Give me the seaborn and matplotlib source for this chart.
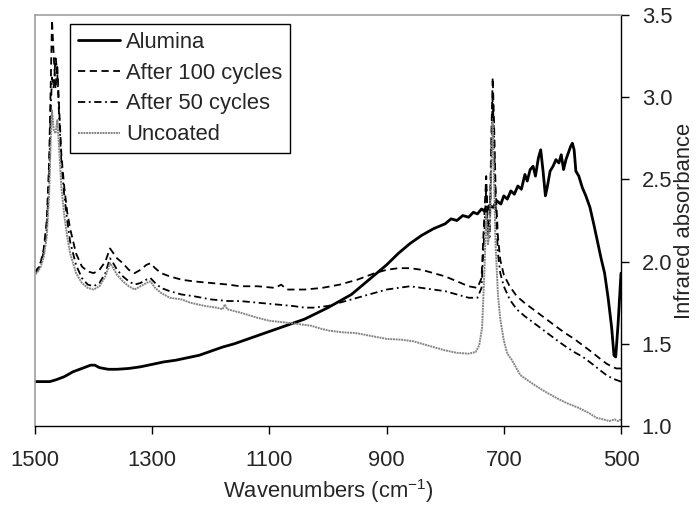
import matplotlib
matplotlib.use("Agg")
import matplotlib.pyplot as plt
import seaborn as sns
import pandas as pd

# ---------------- data ----------------
alumina_x = [1500, 1490, 1475, 1465, 1450, 1435, 1420, 1405, 1398, 1390, 1375, 1360, 1340, 1320,
             1300, 1280, 1260, 1240, 1220, 1200, 1180, 1160, 1140, 1120, 1100, 1080, 1060, 1040,
             1020, 1000, 980, 960, 940, 920, 900, 880, 860, 840, 820, 800, 790, 780, 770, 760,
             752, 745, 738, 730, 725, 718, 712, 705, 700, 694, 688, 682, 676, 670, 664, 660, 655,
             650, 646, 641, 637, 633, 629, 626, 621, 616, 611, 606, 602, 598, 594, 590, 586, 583,
             580, 577, 572, 566, 560, 553, 546, 540, 534, 528, 522, 516, 512, 509, 505, 500]
alumina_y = [1.27, 1.27, 1.27, 1.28, 1.30, 1.33, 1.35, 1.37, 1.37, 1.355, 1.345, 1.345, 1.35, 1.36,
             1.375, 1.39, 1.40, 1.415, 1.43, 1.455, 1.48, 1.50, 1.525, 1.55, 1.575, 1.60, 1.625, 1.65,
             1.685, 1.72, 1.76, 1.80, 1.86, 1.92, 1.98, 2.05, 2.11, 2.16, 2.20, 2.23, 2.26, 2.25, 2.28,
             2.27, 2.30, 2.29, 2.32, 2.30, 2.34, 2.33, 2.37, 2.35, 2.40, 2.38, 2.43, 2.41, 2.46, 2.44,
             2.53, 2.49, 2.56, 2.58, 2.52, 2.63, 2.68, 2.55, 2.40, 2.45, 2.55, 2.58, 2.62, 2.60, 2.65,
             2.56, 2.62, 2.66, 2.70, 2.72, 2.68, 2.55, 2.52, 2.45, 2.40, 2.33, 2.22, 2.12, 2.02, 1.93,
             1.78, 1.60, 1.43, 1.42, 1.62, 1.93]

c100_x = [1500, 1495, 1490, 1485, 1480, 1476, 1473, 1471, 1468, 1465, 1462, 1459, 1455, 1450, 1445,
          1440, 1430, 1420, 1410, 1400, 1390, 1380, 1372, 1368, 1360, 1350, 1340, 1330, 1320, 1310,
          1303, 1295, 1285, 1270, 1250, 1230, 1200, 1170, 1150, 1120, 1090, 1080, 1070, 1040, 1010,
          980, 950, 920, 900, 880, 860, 840, 820, 800, 780, 760, 745, 738, 733, 730, 727, 724, 721,
          719, 717, 714, 710, 706, 700, 690, 678, 665, 650, 635, 620, 605, 593, 580, 565, 550, 536,
          525, 515, 508, 500]
c100_y = [1.94, 1.96, 2.00, 2.08, 2.25, 2.60, 3.10, 3.47, 3.25, 3.05, 3.20, 2.95, 2.65, 2.45, 2.30,
          2.20, 2.05, 1.97, 1.94, 1.93, 1.95, 2.00, 2.08, 2.06, 2.02, 1.99, 1.95, 1.93, 1.95, 1.98,
          1.99, 1.96, 1.93, 1.91, 1.89, 1.88, 1.87, 1.86, 1.85, 1.85, 1.84, 1.86, 1.83, 1.83, 1.84,
          1.86, 1.89, 1.93, 1.95, 1.96, 1.96, 1.95, 1.93, 1.91, 1.88, 1.85, 1.84, 1.90, 2.30, 2.52,
          2.20, 2.25, 2.80, 3.12, 2.90, 2.45, 2.15, 2.01, 1.92, 1.85, 1.79, 1.75, 1.71, 1.67, 1.63,
          1.59, 1.56, 1.53, 1.49, 1.45, 1.41, 1.38, 1.36, 1.35, 1.35]

c50_x = [1500, 1495, 1490, 1485, 1480, 1476, 1473, 1471, 1468, 1465, 1462, 1459, 1455, 1450, 1445,
         1440, 1430, 1420, 1410, 1400, 1390, 1380, 1372, 1368, 1360, 1350, 1340, 1330, 1320, 1310,
         1303, 1295, 1285, 1270, 1250, 1230, 1200, 1170, 1150, 1120, 1090, 1060, 1040, 1025, 1000,
         980, 950, 920, 900, 880, 860, 840, 820, 800, 780, 760, 745, 738, 733, 730, 727, 724, 721,
         719, 717, 714, 710, 706, 700, 690, 678, 665, 650, 635, 620, 605, 593, 580, 565, 550, 536,
         525, 515, 508, 500]
c50_y = [1.93, 1.95, 1.99, 2.06, 2.20, 2.50, 2.95, 3.12, 3.05, 3.25, 3.15, 2.90, 2.60, 2.40, 2.25,
         2.12, 1.98, 1.90, 1.86, 1.85, 1.87, 1.93, 2.02, 2.00, 1.95, 1.91, 1.88, 1.86, 1.87, 1.89,
         1.90, 1.87, 1.84, 1.82, 1.80, 1.79, 1.77, 1.76, 1.76, 1.75, 1.74, 1.73, 1.72, 1.72, 1.73,
         1.75, 1.78, 1.81, 1.83, 1.84, 1.85, 1.84, 1.83, 1.82, 1.80, 1.78, 1.78, 1.84, 2.20, 2.45,
         2.15, 2.15, 2.70, 3.00, 2.80, 2.35, 2.05, 1.93, 1.85, 1.77, 1.71, 1.67, 1.63, 1.59, 1.55,
         1.51, 1.48, 1.45, 1.42, 1.38, 1.34, 1.31, 1.29, 1.28, 1.27]

unc_x = [1500, 1495, 1490, 1485, 1480, 1476, 1473, 1471, 1468, 1465, 1462, 1459, 1455, 1450, 1445,
         1440, 1430, 1420, 1410, 1400, 1390, 1380, 1372, 1368, 1360, 1350, 1340, 1330, 1320, 1310,
         1303, 1295, 1285, 1270, 1250, 1235, 1210, 1190, 1180, 1176, 1172, 1150, 1122, 1100, 1074,
         1050, 1029, 1010, 998, 975, 952, 930, 900, 875, 854, 830, 800, 780, 760, 748, 742, 737,
         733, 730, 727, 724, 721, 719, 717, 714, 710, 706, 700, 694, 686, 672, 660, 648, 630, 610,
         593, 572, 555, 542, 530, 520, 511, 505, 500]
unc_y = [1.92, 1.94, 1.97, 2.03, 2.15, 2.40, 2.75, 2.92, 2.80, 2.78, 2.86, 2.70, 2.45, 2.28, 2.15,
         2.05, 1.93, 1.87, 1.84, 1.83, 1.85, 1.91, 1.99, 1.97, 1.92, 1.88, 1.85, 1.83, 1.85, 1.87,
         1.88, 1.84, 1.81, 1.78, 1.77, 1.75, 1.73, 1.72, 1.71, 1.74, 1.71, 1.69, 1.66, 1.64, 1.63,
         1.62, 1.61, 1.59, 1.58, 1.57, 1.565, 1.55, 1.53, 1.525, 1.515, 1.49, 1.46, 1.445, 1.44,
         1.45, 1.49, 1.60, 1.95, 2.30, 2.10, 2.20, 2.60, 2.85, 2.55, 2.10, 1.80, 1.65, 1.52, 1.44,
         1.40, 1.31, 1.28, 1.25, 1.21, 1.17, 1.14, 1.11, 1.08, 1.05, 1.04, 1.03, 1.04, 1.03, 1.04]

series_names = ["Alumina", "After 100 cycles", "After 50 cycles", "Uncoated"]
x_ticks = [1500, 1300, 1100, 900, 700, 500]
y_ticks = [1.0, 1.5, 2.0, 2.5, 3.0, 3.5]

# ---------------- plot ----------------
sns.set_style("white")
plt.rcParams["font.family"] = ["Liberation Sans", "DejaVu Sans"]
plt.rcParams["mathtext.fontset"] = "custom"
plt.rcParams["mathtext.rm"] = "Liberation Sans"
plt.rcParams["mathtext.it"] = "Liberation Sans"

FS = 15.8

fig = plt.figure(figsize=(6.99, 5.12), dpi=100)
ax = fig.add_axes([35 / 699, 1 - 426 / 512, (621 - 35) / 699, (426 - 15) / 512])

data = [(alumina_x, alumina_y), (c100_x, c100_y), (c50_x, c50_y), (unc_x, unc_y)]
styles = [
    dict(color="black", lw=2.0, linestyle="-"),
    dict(color="black", lw=1.3, dashes=(4, 2.5)),
    dict(color="black", lw=1.3, dashes=(4, 2, 1, 2)),
    dict(color="#858585", lw=1.4, linestyle=(0, (1, 0.4))),
]
for name, (xs, ys), st in zip(series_names, data, styles):
    df = pd.DataFrame({"w": xs, "a": ys})
    sns.lineplot(data=df, x="w", y="a", ax=ax, label=name, estimator=None, **st)

ax.set_xlim(1500, 500)
ax.set_ylim(1.0, 3.5)
ax.set_xticks(x_ticks)
ax.set_xticklabels([str(t) for t in x_ticks])
ax.set_yticks(y_ticks)
ax.set_yticklabels([f"{t:.1f}" for t in y_ticks])
ax.yaxis.tick_right()
ax.yaxis.set_label_position("right")

ax.tick_params(axis="both", which="major", direction="out", length=6, width=1.0,
               color="black", labelsize=FS)
ax.tick_params(axis="x", bottom=True, top=False, pad=11)
ax.tick_params(axis="y", right=True, left=False, pad=9)

for side in ["left", "top"]:
    ax.spines[side].set_color("#a0a0a0")
    ax.spines[side].set_linewidth(1.2)
for side in ["right", "bottom"]:
    ax.spines[side].set_color("black")
    ax.spines[side].set_linewidth(1.0)

ax.set_xlabel("Wavenumbers (cm$^{-1}$)", fontsize=FS, labelpad=5)
ax.set_ylabel("Infrared absorbance", fontsize=FS, labelpad=1)

leg = ax.legend(loc="upper left", bbox_to_anchor=(0.06, 0.978), fontsize=FS,
                frameon=True, fancybox=False, framealpha=1, edgecolor="black",
                handlelength=1.9, handletextpad=0.3, labelspacing=0.45,
                borderpad=0.35, borderaxespad=0)
leg.get_frame().set_linewidth(1.0)

fig.savefig("out.png", dpi=100)
